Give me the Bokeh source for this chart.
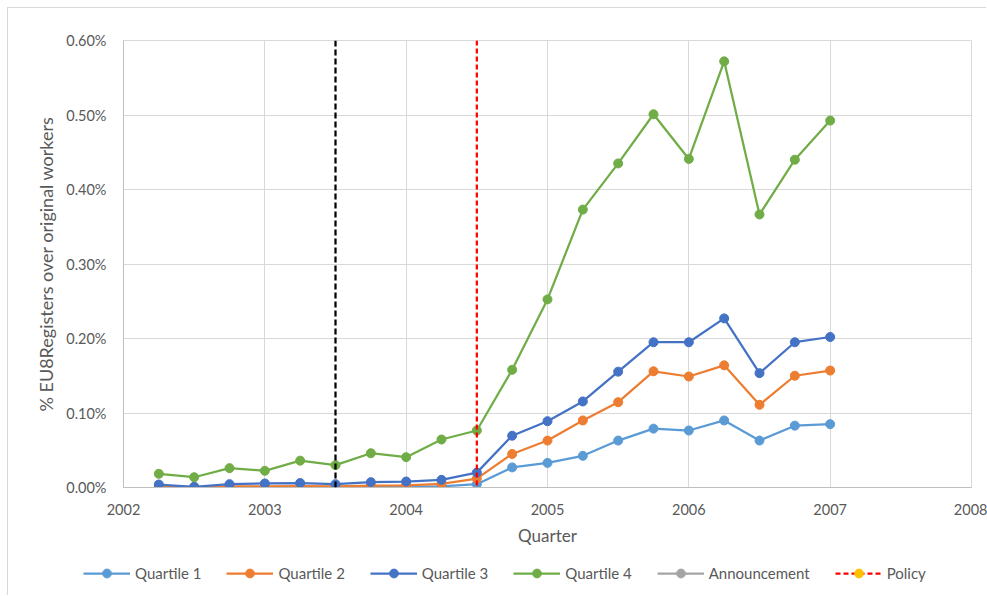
from bokeh.plotting import figure
from bokeh.layouts import column
from bokeh.models import (Span, Legend, LegendItem, FixedTicker, PrintfTickFormatter,
                          Range1d, ColumnDataSource)
from bokeh.embed import file_html
from bokeh.resources import INLINE

quarters = [2002.25, 2002.5, 2002.75, 2003.0, 2003.25, 2003.5, 2003.75, 2004.0,
            2004.25, 2004.5, 2004.75, 2005.0, 2005.25, 2005.5, 2005.75, 2006.0,
            2006.25, 2006.5, 2006.75, 2007.0]

# values in percent
quartile1 = [0.0005, 0.0003, 0.0008, 0.0008, 0.0005, 0.0008, 0.0010, 0.0012,
             0.0015, 0.0045, 0.0270, 0.0330, 0.0425, 0.0630, 0.0790, 0.0765,
             0.0900, 0.0630, 0.0830, 0.0850]
quartile2 = [0.0010, 0.0005, 0.0015, 0.0015, 0.0020, 0.0015, 0.0025, 0.0030,
             0.0050, 0.0120, 0.0450, 0.0630, 0.0900, 0.1145, 0.1560, 0.1490,
             0.1640, 0.1110, 0.1500, 0.1570]
quartile3 = [0.0040, 0.0010, 0.0045, 0.0054, 0.0060, 0.0045, 0.0072, 0.0080,
             0.0103, 0.0200, 0.0695, 0.0890, 0.1155, 0.1555, 0.1950, 0.1950,
             0.2270, 0.1535, 0.1950, 0.2020]
quartile4 = [0.0184, 0.0138, 0.0260, 0.0224, 0.0360, 0.0300, 0.0460, 0.0407,
             0.0644, 0.0765, 0.1580, 0.2525, 0.3730, 0.4350, 0.5010, 0.4410,
             0.5720, 0.3665, 0.4400, 0.4925]

series_names = ["Quartile 1", "Quartile 2", "Quartile 3", "Quartile 4"]
series_values = [quartile1, quartile2, quartile3, quartile4]
series_colors = ["#5B9BD5", "#ED7D31", "#4472C4", "#70AD47"]

announcement_quarter = 2003.5
policy_quarter = 2004.5

x_ticks = [2002, 2003, 2004, 2005, 2006, 2007, 2008]
y_ticks = [0.0, 0.1, 0.2, 0.3, 0.4, 0.5, 0.6]

FONT = "Lato"
TXT = "#595959"
GRID = "#d9d9d9"

p = figure(width=979, height=545, output_backend="svg", toolbar_location=None,
           x_range=Range1d(2002, 2008), y_range=Range1d(0, 0.6),
           min_border_left=115, min_border_right=16, min_border_top=32,
           min_border_bottom=66)
p.frame_align = False
p.background_fill_color = "white"
p.border_fill_color = "white"
p.outline_line_color = GRID
p.outline_line_width = 1

p.xaxis.ticker = FixedTicker(ticks=x_ticks)
p.yaxis.ticker = FixedTicker(ticks=y_ticks)
p.yaxis.formatter = PrintfTickFormatter(format="%.2f%%")
for ax in (p.xaxis, p.yaxis):
    ax.axis_line_color = "#bfbfbf"
    ax.major_tick_line_color = None
    ax.minor_tick_line_color = None
    ax.major_label_text_font = FONT
    ax.major_label_text_font_size = "14.5px"
    ax.major_label_text_color = TXT
    ax.axis_label_text_font = FONT
    ax.axis_label_text_font_style = "normal"
    ax.axis_label_text_color = TXT
p.xaxis.axis_label_text_font_size = "17px"
p.yaxis.axis_label_text_font_size = "18px"
p.xaxis.axis_label = "Quarter"
p.yaxis.axis_label = "% EU8Registers over original workers"
p.xaxis.major_label_standoff = 10
p.yaxis.major_label_standoff = 11
p.xaxis.axis_label_standoff = 7
p.yaxis.axis_label_standoff = 6

p.xgrid.grid_line_color = GRID
p.ygrid.grid_line_color = GRID
p.xgrid.grid_line_width = 1
p.ygrid.grid_line_width = 1

for name, vals, col in zip(series_names, series_values, series_colors):
    src = ColumnDataSource(dict(x=quarters, y=vals))
    p.line("x", "y", source=src, line_color=col, line_width=2.25)
    p.scatter("x", "y", source=src, size=9, fill_color=col, line_color=col)

p.add_layout(Span(location=announcement_quarter, dimension="height",
                  line_color="black", line_width=2.25, line_dash="6 3"))
p.add_layout(Span(location=policy_quarter, dimension="height",
                  line_color="#FF0000", line_width=2.25, line_dash="5 3"))

# legend strip below the chart (its own frame spans the whole strip;
# the legend renderers' data lie outside this strip's ranges, so only
# their legend glyphs show)
lf = figure(width=979, height=43, output_backend="svg", toolbar_location=None,
            x_range=Range1d(0, 1), y_range=Range1d(0, 1),
            x_axis_location=None, y_axis_location=None,
            min_border_left=0, min_border_right=0, min_border_top=0,
            min_border_bottom=0)
lf.frame_align = False
lf.outline_line_color = None
lf.xgrid.visible = False
lf.ygrid.visible = False
lf.background_fill_color = "white"
lf.border_fill_color = "white"

legend_names = series_names + ["Announcement", "Policy"]
legend_values = series_values + [quartile1, quartile1]
legend_line_colors = series_colors + ["#A5A5A5", "#FF0000"]
legend_marker_colors = series_colors + ["#A5A5A5", "#FFC000"]
legend_dashes = ["solid"] * 5 + ["5 3"]

items = []
for name, vals, lc, mc, dash in zip(legend_names, legend_values, legend_line_colors,
                                    legend_marker_colors, legend_dashes):
    src = ColumnDataSource(dict(x=quarters, y=vals))
    lr = lf.line("x", "y", source=src, line_color=lc, line_width=2.25, line_dash=dash)
    sr = lf.scatter("x", "y", source=src, size=9, fill_color=mc, line_color=mc)
    items.append(LegendItem(label=name, renderers=[lr, sr]))

legend = Legend(items=items, orientation="horizontal", location=(75, 12),
                glyph_width=47, glyph_height=22, label_height=22,
                label_standoff=5, spacing=25, padding=0, margin=0,
                border_line_color=None, background_fill_alpha=0,
                label_text_font=FONT, label_text_font_size="15px",
                label_text_color=TXT)
lf.add_layout(legend)

layout = column(p, lf, spacing=0)
layout.styles = {"margin-left": "8px", "margin-top": "8px",
                 "box-shadow": "-1px -1px 0 0 #d9d9d9"}

open("out.html", "w").write(file_html(layout, INLINE))
